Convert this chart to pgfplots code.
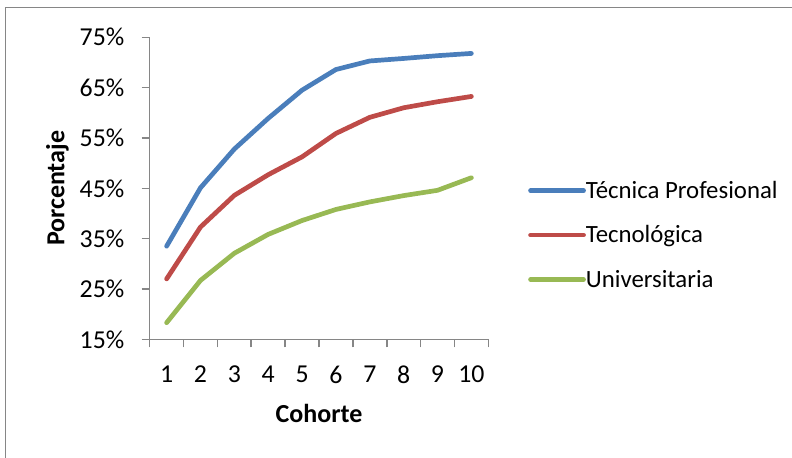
\documentclass[border=0pt]{standalone}
\usepackage{pgfplots}
\pgfplotsset{compat=1.18}
\usepackage{fontspec}
\setmainfont{Carlito}

\definecolor{axisgray}{HTML}{868686}
\definecolor{serieblue}{HTML}{4A7EBB}
\definecolor{seriered}{HTML}{BE4B48}
\definecolor{seriegreen}{HTML}{98B954}

\begin{document}
\begin{tikzpicture}
% page extent and the chart-area frame
\useasboundingbox (-74.85pt,-58.85pt) rectangle (321.15pt,169.65pt);
\draw[axisgray, line width=0.75pt] (-72.2pt,-60pt) -- (-72.2pt,165.9pt) -- (323pt,165.9pt);

\begin{axis}[
  at={(0pt,0pt)}, anchor=south west,
  scale only axis,
  width=169.3pt, height=151pt,
  xmin=0.5, xmax=10.5,
  ymin=15, ymax=75,
  axis x line*=bottom, axis y line*=left,
  axis line style={draw=axisgray, line width=0.8pt},
  tick align=outside,
  % category boundaries carry the tick marks, centres carry the labels
  xtick={0.5,1.5,...,10.5},
  xticklabels={},
  extra x ticks={1,...,10},
  extra x tick labels={1,2,3,4,5,6,7,8,9,10},
  extra x tick style={major tick length=0pt},
  tick style={draw=axisgray, line width=0.8pt},
  major tick length=4pt,
  ytick={15,25,35,45,55,65,75},
  yticklabels={15\%,25\%,35\%,45\%,55\%,65\%,75\%},
  ticklabel style={font=\fontsize{12.9}{15}\selectfont, inner sep=0pt},
  yticklabel style={anchor=east, xshift=-8.5pt},
  xticklabel style={anchor=north, yshift=-13.25pt},
  xlabel={Cohorte},
  ylabel={Porcentaje},
  label style={font=\fontsize{13}{15}\selectfont\bfseries, inner sep=0pt},
  xlabel style={at={(axis description cs:0.5,0)}, anchor=base, yshift=-41.5pt},
  ylabel style={at={(axis description cs:0,0.5)}, anchor=base, yshift=42.6pt},
  legend style={
    at={(1.099,0.339)}, anchor=west,
    draw=none, fill=none,
    font=\fontsize{12.4}{14}\selectfont,
    nodes={inner sep=0pt, text height=8.5pt, text depth=2.5pt},
    row sep=11.2pt,
    /tikz/every even column/.append style={column sep=1pt},
  },
  legend cell align=left,
  legend image code/.code={\draw[#1, line cap=round] (0pt,0.9pt) -- (26.5pt,0.9pt);},
  every axis plot/.append style={line width=2.35pt, line join=round, line cap=round},
  clip=false,
]
\addplot[serieblue] coordinates {
  (1,33.5) (2,45.1) (3,52.8) (4,58.9) (5,64.5)
  (6,68.6) (7,70.3) (8,70.8) (9,71.35) (10,71.8)
};
\addlegendentry{Técnica Profesional}
\addplot[seriered] coordinates {
  (1,27.0) (2,37.3) (3,43.6) (4,47.7) (5,51.25)
  (6,55.9) (7,59.1) (8,61.0) (9,62.2) (10,63.25)
};
\addlegendentry{Tecnológica}
\addplot[seriegreen] coordinates {
  (1,18.3) (2,26.7) (3,32.1) (4,35.85) (5,38.6)
  (6,40.8) (7,42.3) (8,43.55) (9,44.6) (10,47.1)
};
\addlegendentry{Universitaria}
\end{axis}
\end{tikzpicture}
\end{document}
